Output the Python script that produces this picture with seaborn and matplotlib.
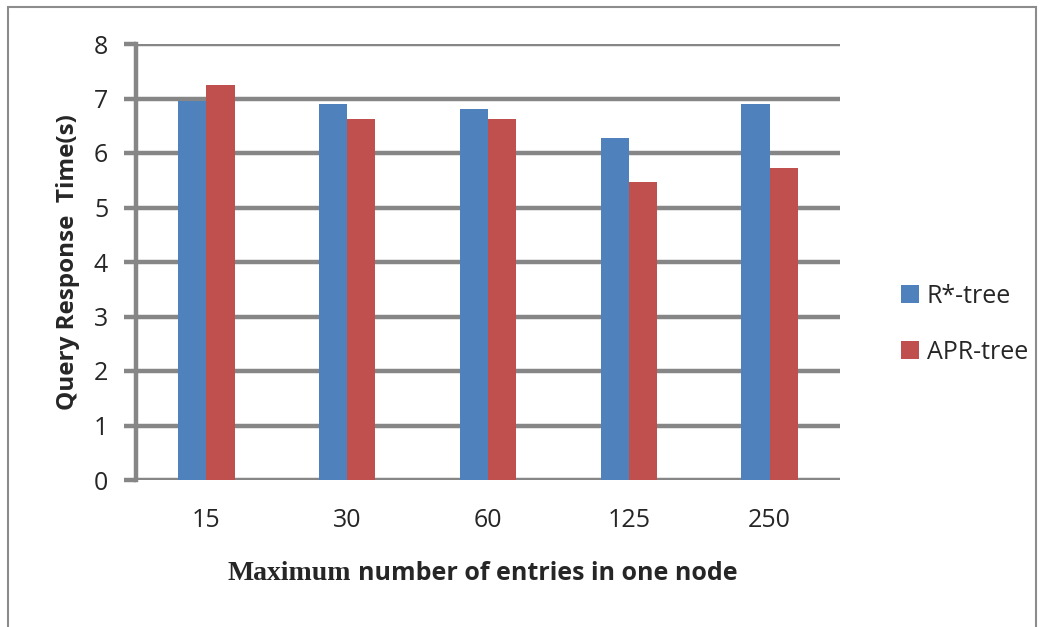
import pandas as pd
import seaborn as sns
import matplotlib.pyplot as plt
from matplotlib.patches import Rectangle

# data
entries = ["15", "30", "60", "125", "250"]
rstar_tree = [6.95, 6.90, 6.80, 6.27, 6.90]
apr_tree = [7.25, 6.62, 6.62, 5.47, 5.72]
series_names = ["R*-tree", "APR-tree"]
y_ticks = [0, 1, 2, 3, 4, 5, 6, 7, 8]

df = pd.DataFrame({
    "entries": entries * 2,
    "time": rstar_tree + apr_tree,
    "tree": [series_names[0]] * len(entries) + [series_names[1]] * len(entries),
})

sns.set_style("white")
plt.rcParams["font.family"] = ["Open Sans", "DejaVu Sans"]

grid_grey = "#868686"
fig = plt.figure(figsize=(10.44, 6.27), dpi=100)
ax = fig.add_axes([136 / 1044, 1 - 480 / 627, 704 / 1044, 436 / 627])

sns.barplot(data=df, x="entries", y="time", hue="tree", order=entries,
            hue_order=series_names, palette=["#4F81BD", "#C0504D"],
            width=0.4, saturation=1, edgecolor="none", ax=ax, zorder=3)

ax.set_ylim(0, 8)
ax.set_xlim(-0.5, len(entries) - 0.5)
ax.set_yticks(y_ticks)
ax.yaxis.grid(True, color=grid_grey, linewidth=3.2, zorder=0)
ax.set_axisbelow(True)
for s in ["top", "right", "bottom"]:
    ax.spines[s].set_visible(False)
ax.spines["left"].set_color(grid_grey)
ax.spines["left"].set_linewidth(3.2)
ax.tick_params(axis="y", length=9, width=3.2, color=grid_grey, pad=11,
               labelsize=18, left=True)
ax.tick_params(axis="x", length=0, pad=20, labelsize=18)

ax.set_xlabel("")
ax.set_ylabel("Query Response  Time(s)", fontsize=17.5, fontweight="bold",
              labelpad=10)

leg = ax.legend(loc="upper left", bbox_to_anchor=(878 / 1044, 1 - 261 / 627),
                bbox_transform=fig.transFigure, frameon=False, fontsize=18,
                handlelength=0.75, handleheight=0.75, handletextpad=0.3,
                labelspacing=1.25)

# x label: "Maximum" in serif, the rest in sans (as in the reference)
t1 = fig.text(228 / 1044, 1 - 573 / 627, "Maximum", fontsize=20,
              fontweight="bold", family="Liberation Serif", va="center")
fig.canvas.draw()
bb = t1.get_window_extent()
fig.text((bb.x1 + 6) / 1044, 1 - 573 / 627, "number of entries in one node",
         fontsize=18, fontweight="bold", va="center")

# outer chart border
fig.patches.append(Rectangle((8 / 1044, -0.05), 1028 / 1044, 1 - 7 / 627 + 0.05,
                             transform=fig.transFigure, fill=False,
                             edgecolor="#8c8c8c", linewidth=1.5))

fig.savefig("out.png", dpi=100)
